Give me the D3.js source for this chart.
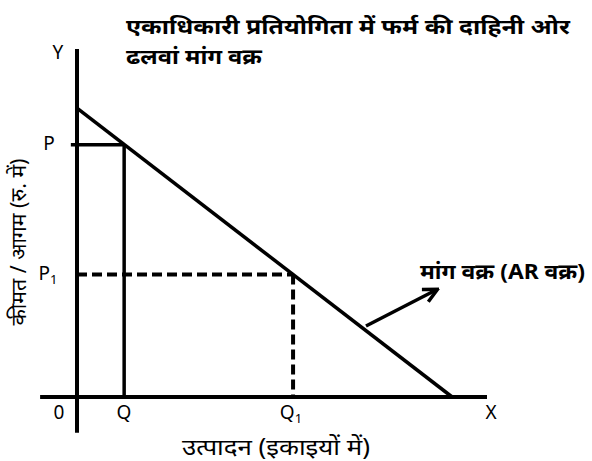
<!DOCTYPE html>
<html><head><meta charset="utf-8">
<script src="https://cdn.jsdelivr.net/npm/d3@7/dist/d3.min.js"></script>
<style>body{margin:0;background:#fff}svg{display:block}</style>
</head><body>
<svg id="c" width="592" height="461"></svg>
<script>
// Data (model units)
const axisX = [-9, 100];        // x-axis extent
const axisY = [-10.3, 100];     // y-axis extent
const demand = [{q:0,p:83},{q:91.5,p:0}];
const pointP = {q:11.5, p:72.5};
const pointP1 = {q:52.7, p:35.2};
const titleLines = ["एकाधिकारी प्रतियोगिता में फर्म की दाहिनी ओर","ढलवां मांग वक्र"];
const xLabel = "उत्पादन (इकाइयों में)";
const yLabel = "कीमत / आगम (रु. में)";
const curveLabel = "मांग वक्र (AR वक्र)";

const svg = d3.select("#c");
const x = d3.scaleLinear().domain([0,100]).range([77,487]);
const y = d3.scaleLinear().domain([0,100]).range([397,49]);
const font = "'Noto Sans','Noto Sans Devanagari',sans-serif";

// axes
svg.append("line").attr("x1",x(axisX[0])).attr("x2",x(axisX[1])).attr("y1",y(0)).attr("y2",y(0))
  .attr("stroke","#000").attr("stroke-width",4);
svg.append("line").attr("x1",x(0)).attr("x2",x(0)).attr("y1",y(axisY[0])).attr("y2",y(axisY[1]))
  .attr("stroke","#000").attr("stroke-width",4);
// demand
svg.append("line").attr("x1",x(demand[0].q)).attr("y1",y(demand[0].p)).attr("x2",x(demand[1].q)).attr("y2",y(demand[1].p))
  .attr("stroke","#000").attr("stroke-width",3.5);
// P lines
svg.append("line").attr("x1",x(-1.5)).attr("x2",x(pointP.q)).attr("y1",y(pointP.p)).attr("y2",y(pointP.p))
  .attr("stroke","#000").attr("stroke-width",3.5);
svg.append("line").attr("x1",x(pointP.q)).attr("x2",x(pointP.q)).attr("y1",y(pointP.p)).attr("y2",y(0))
  .attr("stroke","#000").attr("stroke-width",3.5);
// P1 dashed
svg.append("line").attr("x1",x(0)).attr("x2",x(pointP1.q)).attr("y1",y(pointP1.p)).attr("y2",y(pointP1.p))
  .attr("stroke","#000").attr("stroke-width",4).attr("stroke-dasharray","10,5");
svg.append("line").attr("x1",x(pointP1.q)).attr("x2",x(pointP1.q)).attr("y1",y(pointP1.p)).attr("y2",y(0))
  .attr("stroke","#000").attr("stroke-width",4).attr("stroke-dasharray","10,5");

// arrow
svg.append("defs").append("marker").attr("id","ah").attr("viewBox","0 0 10 10").attr("refX",8).attr("refY",5)
  .attr("markerWidth",5).attr("markerHeight",5).attr("orient","auto")
  .append("path").attr("d","M1,1 L9,5 L1,9").attr("fill","none").attr("stroke","#000").attr("stroke-width",2);
svg.append("line").attr("x1",366).attr("y1",326).attr("x2",436).attr("y2",290)
  .attr("stroke","#000").attr("stroke-width",3.5).attr("marker-end","url(#ah)");

// labels
const lab = (t,xx,yy,size,anchor)=>svg.append("text").attr("x",xx).attr("y",yy).attr("font-family",font)
  .attr("font-size",size).attr("text-anchor",anchor||"middle").text(t);
lab("Y",58,59,19);
lab("P",49,150,19);
const p1 = lab("P",48,280,19); p1.append("tspan").attr("font-size",13).attr("dy",4).text("1");
lab("0",59,419,19);
lab("Q",124,419,19);
const q1 = lab("Q",291,419,19); q1.append("tspan").attr("font-size",13).attr("dy",4).text("1");
lab("X",491,419,19);

const txt = (t,xx,yy,size,len,weight)=>svg.append("text").attr("x",xx).attr("y",yy).attr("font-family",font)
  .attr("font-size",size).attr("font-weight",weight||"normal")
  .attr("textLength",len).attr("lengthAdjust","spacingAndGlyphs").text(t);
txt(titleLines[0],126,34,21,444,"bold");
txt(titleLines[1],126,64,21,136,"bold");
txt(curveLabel,420,279,21,165,"bold");
txt(xLabel,182,455,23,188);
svg.append("text").attr("transform","translate(26,242) rotate(-90)").attr("font-family",font).attr("font-size",21)
  .attr("text-anchor","middle").attr("textLength",167).attr("lengthAdjust","spacingAndGlyphs").text(yLabel);
</script>
</body></html>
